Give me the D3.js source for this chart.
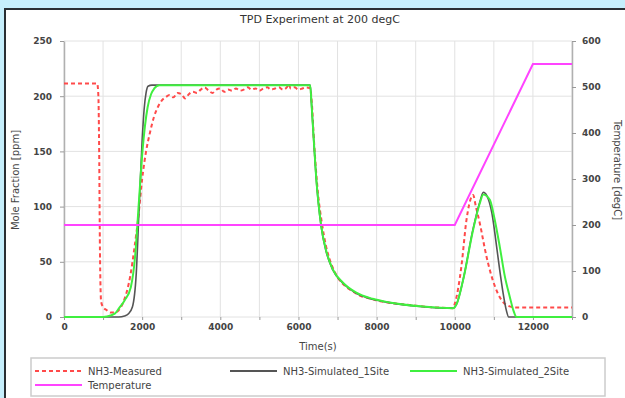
<!DOCTYPE html>
<html><head><meta charset="utf-8">
<script src="https://cdn.jsdelivr.net/npm/d3@7"></script>
<style>
html,body{margin:0;padding:0;background:#c6effc;}
svg{display:block;font-family:"DejaVu Sans",sans-serif;}
</style></head><body>
<svg id="c" width="625" height="398"></svg>
<script>
// ---- data ----
const title = "TPD Experiment at 200 degC";
const xTicks = [0, 2000, 4000, 6000, 8000, 10000, 12000];
const yLeftTicks = [0, 50, 100, 150, 200, 250];
const yRightTicks = [0, 100, 200, 300, 400, 500, 600];
const seriesNames = ["NH3-Measured", "NH3-Simulated_1Site", "NH3-Simulated_2Site", "Temperature"];

const measuredTime = [0,850,880,900,920,950,1000,1100,1200,1300,1400,1500,1600,1700,1800,1900,2000,2100,2200,2300,2400,2500,2600,2700,2800,2900,3000,3100,3200,3300,3400,3500,3600,3700,3800,3900,4000,4100,4200,4300,4400,4500,4600,4700,4800,4900,5000,5100,5200,5300,5400,5500,5600,5700,5750,5800,5900,6000,6100,6200,6300,6340,6400,6500,6600,6700,6800,6900,7000,7200,7400,7600,7800,8000,8400,8800,9200,9600,9950,10000,10170,10300,10430,10470,10540,10640,10810,11030,11320,11580,12000,13000];
const measuredValues = [211.5,211.5,200,150,60,14,9,6,4,4,6,12,22,38,62,90,125,150,167,181,190,196,199,201,199,203,202,198,202,204,203,206,208,205,203,206,207,204,206,205,207,205,206,208,206,207,205,207,208,206,207,208,206,208,211,207,208,206,207,208,207,195,158,112,85,65,52,43,36,28,23,19,17,15,12.5,11,9.5,8.5,8,12,46,88,109,110.5,100,85,55,27.5,11,8.5,8.5,8.5];

const sim1Time = [0,1400,1550,1650,1750,1850,1920,2000,2050,2100,2150,2250,6300,6330,6370,6450,6580,6710,6880,7140,7480,7900,8330,9190,9960,10050,10210,10470,10640,10730,10820,10950,11070,11160,11240,11320,11380,13000];
const sim1Values = [0,0,1,3,9,40,97,160,188,203,209,210,210,195,172,127,82,59,42.6,30.5,21.5,16,13,9.3,7.9,12,33,80,104,113,110,94,64,40,21,6,0,0];

const sim2Time = [0,900,1100,1300,1410,1550,1710,1820,1920,2010,2140,2230,2310,2440,6300,6330,6370,6450,6580,6710,6880,7140,7480,7900,8330,9190,9960,10050,10210,10470,10640,10730,10900,11000,11150,11280,11410,11500,11580,13000];
const sim2Values = [0,0,0.5,3,8,15,27,55,106,151,190,202,207,210,210,196,173,128,83,60,43,31,22,16.5,13.2,9.5,8,12,33,79,103,111,106,92,64,37,18,6,0,0];

const tempTime = [0,10000,12000,13000];
const tempValues = [200,200,550,550];

// ---- layout ----
const svg = d3.select("#c");
const L = 64, R = 572, T = 41, B = 317;
svg.append("rect").attr("x",5).attr("y",9).attr("width",625).attr("height",400)
  .attr("fill","#fff").attr("stroke","#2a2f33").attr("stroke-width",2);

const x = d3.scaleLinear().domain([0,13000]).range([L,R]);
const yL = d3.scaleLinear().domain([0,250]).range([B,T]);
const yR = d3.scaleLinear().domain([0,600]).range([B,T]);

// grid
const g = svg.append("g");
g.selectAll("line.vg").data(d3.range(0,13001,1000)).join("line")
  .attr("x1",d=>x(d)).attr("x2",d=>x(d)).attr("y1",T).attr("y2",B)
  .attr("stroke","#e2e2e2").attr("stroke-width",1);
g.selectAll("line.hg").data(yLeftTicks).join("line")
  .attr("x1",L).attr("x2",R).attr("y1",d=>yL(d)).attr("y2",d=>yL(d))
  .attr("stroke","#e2e2e2").attr("stroke-width",1);

// axes
const tickStyle = sel => {
  sel.select(".domain").attr("stroke","#b0b0b0").attr("stroke-width",1.5);
  sel.selectAll(".tick line").attr("stroke","#999");
  sel.selectAll("text").attr("fill","#444").attr("font-size",9).attr("font-weight","bold")
    .attr("font-family","DejaVu Sans, sans-serif");
};
svg.append("g").attr("transform",`translate(0,${B})`)
  .call(d3.axisBottom(x).tickValues(d3.range(0,13001,1000)).tickSize(3).tickSizeOuter(0).tickPadding(4)
    .tickFormat(d => xTicks.includes(d) ? d : ""))
  .call(tickStyle).call(s=>s.select(".domain").remove());
svg.append("g").attr("transform",`translate(${L},0)`)
  .call(d3.axisLeft(yL).tickValues(yLeftTicks).tickSize(4).tickSizeOuter(0).tickPadding(8))
  .call(tickStyle);
svg.append("g").attr("transform",`translate(${R},0)`)
  .call(d3.axisRight(yR).tickValues(yRightTicks).tickSize(4).tickSizeOuter(0).tickPadding(6))
  .call(tickStyle);

// lines
const mk = (tArr, vArr, ys) => d3.line().x((d,i)=>x(tArr[i])).y((d,i)=>ys(vArr[i])).curve(d3.curveMonotoneX)(vArr);
const plot = svg.append("g");
plot.append("path").attr("d", mk(measuredTime, measuredValues, yL))
  .attr("fill","none").attr("stroke","#ff4a4a").attr("stroke-width",2).attr("stroke-dasharray","4,3");
plot.append("path").attr("d", mk(sim1Time, sim1Values, yL))
  .attr("fill","none").attr("stroke","#555").attr("stroke-width",1.6);
plot.append("path").attr("d", mk(sim2Time, sim2Values, yL))
  .attr("fill","none").attr("stroke","#3fef3f").attr("stroke-width",2);
plot.append("path").attr("d", d3.line().x((d,i)=>x(tempTime[i])).y(d=>yR(d))(tempValues))
  .attr("fill","none").attr("stroke","#ff44ff").attr("stroke-width",2);

// texts
svg.append("text").attr("x",320).attr("y",23).attr("text-anchor","middle")
  .attr("font-size",11).attr("fill","#333").text(title);
svg.append("text").attr("x",(L+R)/2).attr("y",350).attr("text-anchor","middle")
  .attr("font-size",10).attr("fill","#444").text("Time(s)");
svg.append("text").attr("transform","translate(19,180) rotate(-90)").attr("text-anchor","middle")
  .attr("font-size",10).attr("fill","#444").text("Mole Fraction [ppm]");
svg.append("text").attr("transform","translate(614,170) rotate(90)").attr("text-anchor","middle")
  .attr("font-size",10).attr("fill","#444").text("Temperature [degC]");

// legend
const lg = svg.append("g");
lg.append("rect").attr("x",31).attr("y",358).attr("width",574).attr("height",38)
  .attr("fill","#fff").attr("stroke","#ccc").attr("stroke-width",1.5);
const legendItems = [
  {name:seriesNames[0], col:"#ff4a4a", dash:"4,3", x:35, y:371},
  {name:seriesNames[1], col:"#555", dash:null, x:230, y:371},
  {name:seriesNames[2], col:"#3fef3f", dash:null, x:410, y:371},
  {name:seriesNames[3], col:"#ff44ff", dash:null, x:35, y:385}
];
legendItems.forEach(it=>{
  lg.append("line").attr("x1",it.x).attr("x2",it.x+47).attr("y1",it.y).attr("y2",it.y)
    .attr("stroke",it.col).attr("stroke-width",2).attr("stroke-dasharray",it.dash);
  lg.append("text").attr("x",it.x+53).attr("y",it.y+3.5).attr("font-size",10).attr("fill","#444").text(it.name);
});
</script></body></html>
